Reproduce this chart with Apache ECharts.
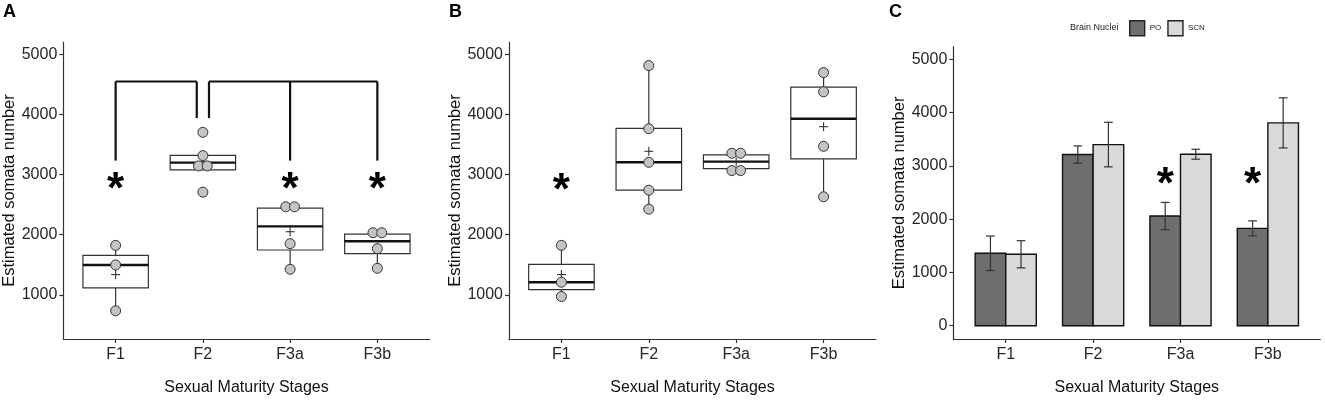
<!DOCTYPE html>
<html>
<head>
<meta charset="utf-8">
<script src="https://cdn.jsdelivr.net/npm/echarts@6/dist/echarts.min.js"></script>
<style>
  html, body { margin: 0; padding: 0; background: #fff; }
  #main { width: 1325px; height: 401px; }
</style>
</head>
<body>
<div id="main"></div>
<script>
// stages on the x axis
var stages = ['F1', 'F2', 'F3a', 'F3b'];

// panel A - PO, individual values and box stats
var poPoints = [[1823, 1497, 735], [3702, 3315, 3144, 3144, 2707], [2464, 2464, 1851, 1425], [2033, 2033, 1768, 1442]];
var poLow  = [735, 3077, 1425, 1442];
var poQ1   = [1116, 3077, 1746, 1685];
var poMed  = [1497, 3199, 2138, 1890];
var poQ3   = [1657, 3320, 2442, 2011];
var poHigh = [1823, 3320, 2464, 2033];
var poMean = [1337, 3202, 2050, 1785];

// panel B - SCN
var scnPoints = [[1823, 1210, 972], [4812, 3762, 3204, 2740, 2425], [3354, 3354, 3066, 3066], [4696, 4376, 3470, 2630]];
var scnLow  = [972, 2425, 3066, 2630];
var scnQ1   = [1088, 2740, 3099, 3260];
var scnMed  = [1210, 3204, 3215, 3928];
var scnQ3   = [1508, 3768, 3326, 4453];
var scnHigh = [1823, 4812, 3354, 4696];
var scnMean = [1337, 3387, 3210, 3796];

// panel C - means and error
var poBar   = [1359, 3211, 2057, 1827];
var poErr   = [324, 162, 256, 140];
var scnBar  = [1340, 3398, 3217, 3805];
var scnErr  = [255, 418, 93, 470];

// significance marks
var starA = [[1, 2890], [3, 2890], [4, 2890]];
var starB = [[1, 2873]];
var starC = [[3, 2805], [4, 2805]];
// bracket segments in panel A: [x1, y1, x2, y2]
var bracketA = [
  [1, 3232, 1, 4547], [1, 4547, 1.93, 4547], [1.93, 4547, 1.93, 3939],
  [2.07, 3939, 2.07, 4547], [2.07, 4547, 4, 4547], [4, 4547, 4, 3232], [3, 4547, 3, 3232]
];

var FONT = 'Liberation Sans';
var INK = '#333';

var chart = echarts.init(document.getElementById('main'));

function xAxis(g) {
  return {
    type: 'value', gridIndex: g, min: 0.4, max: 4.6,
    axisLine: { show: true, onZero: false, lineStyle: { color: INK, width: 1.2 } },
    axisTick: { show: true, length: 4, customValues: [1, 2, 3, 4], lineStyle: { color: INK, width: 1.2 } },
    axisLabel: {
      customValues: [1, 2, 3, 4], margin: 8, fontSize: 16, color: '#262626', fontFamily: FONT,
      formatter: function (v) { return stages[Math.round(v) - 1]; }
    },
    splitLine: { show: false },
    name: 'Sexual Maturity Stages', nameLocation: 'middle', nameGap: 41, nameMoveOverlap: false,
    nameTextStyle: { fontSize: 16, color: '#111', fontFamily: FONT }
  };
}

function yAxis(g, min, max, ticks) {
  return {
    type: 'value', gridIndex: g, min: min, max: max,
    axisLine: { show: true, onZero: false, lineStyle: { color: INK, width: 1.2 } },
    axisTick: { show: true, length: 4, customValues: ticks, lineStyle: { color: INK, width: 1.2 } },
    axisLabel: { customValues: ticks, margin: 6, fontSize: 16, color: '#262626', fontFamily: FONT,
      formatter: function (v) { return String(v); } },
    splitLine: { show: false },
    name: 'Estimated somata number', nameLocation: 'middle', nameGap: 45, nameMoveOverlap: false,
    nameTextStyle: { fontSize: 16.5, color: '#111', fontFamily: FONT }
  };
}

function seg(x1, y1, x2, y2, w, c) {
  return { type: 'line', shape: { x1: x1, y1: y1, x2: x2, y2: y2 }, style: { stroke: c || INK, lineWidth: w } };
}

function boxSeries(g, low, q1, med, q3, high) {
  return {
    type: 'custom', xAxisIndex: g, yAxisIndex: g,
    data: stages.map(function (s, i) { return [i + 1, low[i], q1[i], med[i], q3[i], high[i]]; }),
    encode: { x: 0, y: [1, 2, 3, 4, 5] },
    renderItem: function (params, api) {
      var x = api.value(0);
      var half = api.size([0.75, 0])[0] / 2;
      var lo = api.coord([x, api.value(1)]);
      var cx = lo[0];
      var yQ1 = api.coord([x, api.value(2)])[1];
      var yMed = api.coord([x, api.value(3)])[1];
      var yQ3 = api.coord([x, api.value(4)])[1];
      var yHi = api.coord([x, api.value(5)])[1];
      return {
        type: 'group', children: [
          seg(cx, yHi, cx, yQ3, 1.2),
          seg(cx, yQ1, cx, lo[1], 1.2),
          { type: 'rect', shape: { x: cx - half, y: yQ3, width: 2 * half, height: yQ1 - yQ3 },
            style: { fill: '#fff', stroke: INK, lineWidth: 1.2 } },
          seg(cx - half, yMed, cx + half, yMed, 2.4, '#111')
        ]
      };
    }
  };
}

// points with equal values sit side by side
function pointData(groups) {
  var out = [];
  groups.forEach(function (vals, i) {
    vals.forEach(function (v, j) {
      var same = vals.filter(function (u) { return u === v; }).length;
      var k = vals.slice(0, j).filter(function (u) { return u === v; }).length;
      var dx = same > 1 ? (k - (same - 1) / 2) * 0.1 : 0;
      out.push([i + 1 + dx, v]);
    });
  });
  return out;
}

function pointSeries(g, groups) {
  return {
    type: 'scatter', xAxisIndex: g, yAxisIndex: g, symbol: 'circle', symbolSize: 10,
    itemStyle: { color: '#c4c4c4', borderColor: INK, borderWidth: 1, opacity: 1 },
    data: pointData(groups)
  };
}

function meanSeries(g, mean) {
  return {
    type: 'custom', xAxisIndex: g, yAxisIndex: g,
    data: stages.map(function (s, i) { return [i + 1, mean[i]]; }),
    encode: { x: 0, y: 1 },
    renderItem: function (params, api) {
      var p = api.coord([api.value(0), api.value(1)]);
      return { type: 'group', children: [
        seg(p[0] - 4.5, p[1], p[0] + 4.5, p[1], 1.1),
        seg(p[0], p[1] - 4.5, p[0], p[1] + 4.5, 1.1)
      ] };
    }
  };
}

function starSeries(g, pts, dx) {
  return {
    type: 'custom', xAxisIndex: g, yAxisIndex: g, data: pts, encode: { x: 0, y: 1 },
    renderItem: function (params, api) {
      var p = api.coord([api.value(0) + dx, api.value(1)]);
      return { type: 'text', x: p[0], y: p[1] + 10,
        style: { text: '*', fontSize: 44, fontWeight: 'bold', fontFamily: FONT, fill: '#000',
                 align: 'center', verticalAlign: 'middle' } };
    }
  };
}

function barSeries(name, vals, dx, color) {
  return {
    name: name, type: 'custom', xAxisIndex: 2, yAxisIndex: 2,
    itemStyle: { color: color },
    data: stages.map(function (s, i) { return [i + 1, vals[i]]; }),
    encode: { x: 0, y: 1 },
    renderItem: function (params, api) {
      var x = api.value(0) + dx;
      var p0 = api.coord([x - 0.175, 0]);
      var p1 = api.coord([x + 0.175, api.value(1)]);
      return { type: 'rect', shape: { x: p0[0], y: p1[1], width: p1[0] - p0[0], height: p0[1] - p1[1] },
        style: { fill: color, stroke: '#111', lineWidth: 1.4 } };
    }
  };
}

function errSeries(vals, errs, dx) {
  return {
    type: 'custom', xAxisIndex: 2, yAxisIndex: 2,
    data: stages.map(function (s, i) { return [i + 1, vals[i], errs[i]]; }),
    encode: { x: 0, y: 1 },
    renderItem: function (params, api) {
      var x = api.value(0) + dx;
      var hi = api.coord([x, api.value(1) + api.value(2)]);
      var lo = api.coord([x, api.value(1) - api.value(2)]);
      var cap = api.size([0.05, 0])[0];
      return { type: 'group', children: [
        seg(hi[0], hi[1], lo[0], lo[1], 1.2),
        seg(hi[0] - cap, hi[1], hi[0] + cap, hi[1], 1.2),
        seg(lo[0] - cap, lo[1], lo[0] + cap, lo[1], 1.2)
      ] };
    }
  };
}

var option = {
  animation: false,
  backgroundColor: '#fff',
  textStyle: { fontFamily: FONT },
  title: [
    { text: 'A', left: 3, top: 3, padding: 0, textStyle: { fontSize: 18, fontWeight: 'bold', color: '#000', fontFamily: FONT } },
    { text: 'B', left: 449, top: 3, padding: 0, textStyle: { fontSize: 18, fontWeight: 'bold', color: '#000', fontFamily: FONT } },
    { text: 'C', left: 889, top: 3, padding: 0, textStyle: { fontSize: 18, fontWeight: 'bold', color: '#000', fontFamily: FONT } },
    { text: 'Brain Nuclei', left: 1070, top: 23, padding: 0, textStyle: { fontSize: 9, fontWeight: 'normal', color: '#222', fontFamily: FONT } }
  ],
  legend: {
    data: ['PO', 'SCN'], left: 1129, top: 20, padding: 0, icon: 'rect',
    itemWidth: 15, itemHeight: 15, itemGap: 6,
    itemStyle: { borderColor: '#222', borderWidth: 1.4 },
    textStyle: { fontSize: 8, color: '#222', fontFamily: FONT }
  },
  grid: [
    { left: 63.3, top: 42, width: 366.4, height: 298 },
    { left: 509, top: 42, width: 367, height: 298 },
    { left: 953.3, top: 46.7, width: 367, height: 293.3 }
  ],
  xAxis: [xAxis(0), xAxis(1), xAxis(2)],
  yAxis: [
    yAxis(0, 266, 5204, [1000, 2000, 3000, 4000, 5000]),
    yAxis(1, 266, 5204, [1000, 2000, 3000, 4000, 5000]),
    yAxis(2, -249, 5234, [0, 1000, 2000, 3000, 4000, 5000])
  ],
  series: [
    boxSeries(0, poLow, poQ1, poMed, poQ3, poHigh),
    pointSeries(0, poPoints),
    meanSeries(0, poMean),
    {
      type: 'custom', xAxisIndex: 0, yAxisIndex: 0, data: bracketA, encode: { x: [0, 2], y: [1, 3] },
      renderItem: function (params, api) {
        var a = api.coord([api.value(0), api.value(1)]);
        var b = api.coord([api.value(2), api.value(3)]);
        return seg(a[0], a[1], b[0], b[1], 2.2, '#111');
      }
    },
    starSeries(0, starA, 0),
    boxSeries(1, scnLow, scnQ1, scnMed, scnQ3, scnHigh),
    pointSeries(1, scnPoints),
    meanSeries(1, scnMean),
    starSeries(1, starB, 0),
    barSeries('PO', poBar, -0.175, '#6e6e6e'),
    barSeries('SCN', scnBar, 0.175, '#d9d9d9'),
    errSeries(poBar, poErr, -0.175),
    errSeries(scnBar, scnErr, 0.175),
    starSeries(2, starC, -0.175)
  ]
};

chart.setOption(option);
</script>
</body>
</html>
